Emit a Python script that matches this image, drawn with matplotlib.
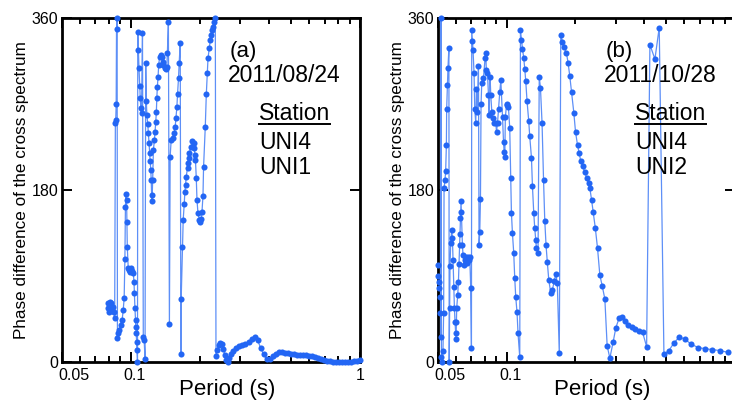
import matplotlib
matplotlib.use("Agg")
import matplotlib.pyplot as plt
from matplotlib.lines import Line2D
from matplotlib.ticker import NullFormatter
from matplotlib.transforms import ScaledTranslation

plt.rcParams['font.family'] = ['Liberation Sans', 'DejaVu Sans']

# ---- panel (a) 2011/08/24, UNI4-UNI1 ----
left_period = [
    0.0793, 0.0797, 0.0803, 0.0809, 0.0815, 0.0822, 0.0828, 0.0834, 0.0840, 0.0849,
    0.0855, 0.0858, 0.0862, 0.0865, 0.0870, 0.0873, 0.0880, 0.0888, 0.0901, 0.0915,
    0.0925, 0.0934, 0.0941, 0.0946, 0.0951, 0.0957, 0.0960, 0.0964, 0.0973, 0.0982,
    0.0992, 0.1002, 0.1013, 0.1024, 0.1031, 0.1035, 0.1041, 0.1047, 0.1051, 0.1055,
    0.1059, 0.1063, 0.1068, 0.1071, 0.1077, 0.1084, 0.1092, 0.1098, 0.1104, 0.1112,
    0.1123, 0.1132, 0.1142, 0.1152, 0.1160, 0.1167, 0.1174, 0.1184, 0.1191, 0.1199,
    0.1207, 0.1213, 0.1221, 0.1226, 0.1231, 0.1236, 0.1244, 0.1253, 0.1266, 0.1274,
    0.1283, 0.1291, 0.1297, 0.1304, 0.1313, 0.1322, 0.1333, 0.1347, 0.1363, 0.1374,
    0.1385, 0.1402, 0.1419, 0.1434, 0.1442, 0.1457, 0.1472, 0.1483, 0.1498, 0.1523,
    0.1544, 0.1560, 0.1571, 0.1587, 0.1597, 0.1613, 0.1624, 0.1641, 0.1652, 0.1657,
    0.1679, 0.1691, 0.1708, 0.1720, 0.1731, 0.1743, 0.1766, 0.1778, 0.1789, 0.1801,
    0.1827, 0.1852, 0.1877, 0.1890, 0.1903, 0.1913, 0.1928, 0.1942, 0.1961, 0.1987,
    0.2008, 0.2028, 0.2042, 0.2063, 0.2075, 0.2111, 0.2133, 0.2154, 0.2170, 0.2199,
    0.2221, 0.2244, 0.2259, 0.2282, 0.2312, 0.2335,
    0.2351, 0.2383, 0.2420, 0.2457, 0.2494, 0.2532, 0.2571, 0.2610, 0.2650, 0.2691, 0.2732,
    0.2802, 0.2887, 0.2977, 0.3068, 0.3162, 0.3260, 0.3360, 0.3463, 0.3569, 0.3680,
    0.3793, 0.3910, 0.4030, 0.4153, 0.4282, 0.4413, 0.4549, 0.4689, 0.4833, 0.4982,
    0.5135, 0.5293, 0.5456, 0.5623, 0.5797, 0.5975, 0.6159, 0.6348, 0.6544, 0.6745,
    0.6952, 0.7167, 0.7386, 0.7614, 0.7848, 0.8090, 0.8340, 0.8596, 0.8861, 0.9131,
    0.9413, 0.9701, 1.0,
]
left_phase = [
    57, 62, 52, 63, 55, 62, 53, 58, 52, 46,
    250, 253, 270, 349, 360, 25, 30, 33, 39, 44,
    54, 67, 108, 162, 176, 170, 146, 120, 98, 96,
    94, 98, 95, 93, 84, 72, 56, 44, 37, 30,
    21, 13, 0, 345, 327, 308, 289, 276, 266, 261,
    344, 26, 23, 3, 313, 273, 258, 249, 240, 229,
    219, 210, 201, 190, 175, 168, 190, 222, 232, 241,
    251, 262, 276, 288, 298, 311, 319, 321, 319, 314,
    311, 308, 307, 309, 323, 356, 40, 215, 232, 234,
    240, 246, 255, 267, 280, 297, 313, 334, 8, 66,
    120, 149, 165, 178, 185, 194, 203, 208, 213, 219,
    225, 231, 229, 224, 217, 211, 193, 170, 156, 149,
    146, 150, 157, 174, 204, 246, 280, 302, 318, 329,
    337, 342, 347, 351, 356, 360,
    6, 13, 18, 20, 19, 14, 7, 2, 0, 4, 8,
    12, 15, 17, 18, 19, 21, 24, 26, 23, 15,
    8, 3, 3, 6, 8, 10, 10, 9, 9, 8,
    8, 7, 7, 7, 7, 6, 6, 5, 4, 3,
    2, 1, 1, 0.5, 0.5, 0.5, 0.5, 0.5, 0.5, 0.5,
    1, 1.5, 2,
]

# ---- panel (b) 2011/10/28, UNI4-UNI2 ----
right_period = [
    0.04981, 0.05007, 0.05032, 0.05052, 0.05083, 0.05114, 0.05135, 0.05155, 0.05176, 0.05218,
    0.05256, 0.05293, 0.05315, 0.05363, 0.05402, 0.05441, 0.05457, 0.05496, 0.05530, 0.05581,
    0.05598, 0.05621, 0.05643, 0.05684, 0.05741, 0.05782, 0.05817, 0.05859, 0.05900, 0.05936,
    0.05978, 0.05997, 0.06021, 0.06039, 0.06100, 0.06144, 0.06181, 0.06225, 0.06244, 0.06269,
    0.06288, 0.06307, 0.06397, 0.06436, 0.06502, 0.06568, 0.06661, 0.06729, 0.06797, 0.06838,
    0.06887, 0.06957, 0.07006, 0.07027, 0.07077, 0.07120, 0.07193, 0.07244, 0.07317, 0.07369,
    0.07444, 0.07519, 0.07565, 0.07619, 0.07673, 0.07719, 0.07774, 0.07909, 0.08040, 0.08097,
    0.08138, 0.08237, 0.08321, 0.08371, 0.08456, 0.08516, 0.08603, 0.08717, 0.08805, 0.08958,
    0.09022, 0.09113, 0.09206, 0.09327, 0.09422, 0.09586, 0.09683, 0.09742, 0.09811, 0.09861,
    0.09981, 0.10071, 0.10173, 0.10308, 0.10412, 0.10486, 0.10593, 0.10733, 0.10842, 0.10952,
    0.11096, 0.11208, 0.11405, 0.11486, 0.11602, 0.11720, 0.11874, 0.11994, 0.12115, 0.12275,
    0.12488, 0.12614, 0.12833, 0.12963, 0.13134, 0.13268, 0.13402, 0.13497, 0.13717, 0.13884,
    0.14053, 0.14282, 0.14500, 0.14678, 0.14871, 0.15053, 0.15283, 0.15595, 0.15833, 0.16156,
    0.16403, 0.16654, 0.16993, 0.17252, 0.17551, 0.17783, 0.18275, 0.18573, 0.18895, 0.19222,
    0.19674, 0.20014, 0.20423, 0.20756, 0.21115, 0.21481, 0.21986, 0.22366, 0.22823, 0.23124,
    0.23525, 0.23908, 0.24445, 0.24994, 0.25581, 0.26182, 0.26906, 0.27538, 0.28299, 0.29259,
    0.30068, 0.31087, 0.32044, 0.32930, 0.34046, 0.35235, 0.36429, 0.38046, 0.39375, 0.41004,
    0.42393, 0.44589, 0.46567, 0.48830, 0.51358, 0.54017, 0.56985, 0.60357, 0.63928, 0.69024,
    0.73858, 0.79068, 0.85930, 0.93453,
]
right_phase = [
    101, 90, 84, 77, 68, 51, 26, 360, 5, 0,
    11, 51, 182, 190, 200, 227, 265, 290, 308, 329,
    0, 56, 100, 125, 138, 130, 107, 78, 57, 42,
    30, 24, 42, 57, 70, 84, 103, 122, 134, 151,
    157, 168, 122, 112, 101, 107, 110, 104, 110, 107,
    110, 77, 15, 347, 336, 326, 302, 265, 250, 286,
    262, 310, 122, 136, 171, 270, 292, 297, 318, 323,
    306, 302, 279, 258, 298, 279, 262, 255, 250, 250,
    241, 250, 265, 283, 295, 256, 230, 220, 215, 256,
    269, 270, 267, 245, 193, 156, 135, 114, 88, 68,
    52, 30, 5, 347, 337, 328, 318, 307, 294, 273,
    252, 236, 214, 184, 156, 140, 128, 119, 114, 298,
    287, 250, 190, 148, 122, 105, 86, 72, 75, 85,
    92, 83, 9, 342, 335, 330, 323, 313, 299, 283,
    261, 241, 227, 219, 210, 205, 199, 193, 187, 182,
    170, 157, 140, 119, 91, 80, 66, 17, 4, 21,
    36, 46, 47, 43, 39, 37, 35, 32, 31, 16,
    332, 317, 350, 8, 12, 20, 26, 24, 19, 15,
    14, 13, 12, 10,
]

x_major = [0.05, 0.1, 1]
x_minor = [0.06, 0.07, 0.08, 0.09, 0.2, 0.3, 0.4, 0.5, 0.6, 0.7, 0.8, 0.9]
y_ticks = [0, 180, 360]

LINE_C = "#5d8ff7"
DOT_C = "#2366f4"
W, H = 732, 403


def px(x, y):
    # pixel position -> figure fraction
    return x / W, 1 - y / H


def draw_panel(fig, ax, period, phase, xlabels, xlab_x):
    ax.plot(period, phase, "-", color=LINE_C, lw=0.9, zorder=2)
    ax.plot(period, phase, "o", color=DOT_C, ms=4.4, mec="none",
            zorder=3, clip_on=False)
    ax.set_xscale("log")
    ax.set_xlim(0.05, 1)
    ax.set_ylim(0, 360)
    ax.set_xticks(x_major)
    ax.set_xticklabels(xlabels)
    ax.set_xticks(x_minor, minor=True)
    ax.xaxis.set_minor_formatter(NullFormatter())
    ax.set_yticks(y_ticks)
    ax.set_yticklabels([str(v) for v in y_ticks])
    ax.tick_params(which="both", direction="in", top=True, right=True,
                   width=1.4, labelsize=11.5)
    ax.tick_params(which="major", length=7)
    ax.tick_params(which="minor", length=4.5)
    ax.tick_params(axis="x", pad=4)
    ax.tick_params(axis="y", pad=2.5)
    # the 0.05 label sits right of its tick, clear of the "0"
    labs = ax.get_xticklabels()
    labs[0].set_ha("left")
    labs[0].set_transform(labs[0].get_transform() +
                          ScaledTranslation(-4 / 100, 0, fig.dpi_scale_trans))
    labs[1].set_transform(labs[1].get_transform() +
                          ScaledTranslation(4 / 100, 0, fig.dpi_scale_trans))
    for s in ax.spines.values():
        s.set_linewidth(2)
    ax.set_xlabel("Period (s)", fontsize=16)
    ax.xaxis.set_label_coords(xlab_x, -0.05)
    ax.set_ylabel("Phase difference of the cross spectrum", fontsize=12.3,
                  labelpad=2)


def annotate(fig, tag, date, st2, xtag, xdate, xst):
    fig.text(*px(xtag, 51), tag, ha="center", va="center", fontsize=16)
    fig.text(*px(xdate, 82), date, ha="center", va="baseline", fontsize=16.5)
    fig.text(*px(xst, 120), "Station", ha="left", va="baseline", fontsize=16.5)
    fig.add_artist(Line2D([xst / W, (xst + 71) / W], [1 - 123.5 / H] * 2,
                          color="black", lw=1.4, transform=fig.transFigure))
    fig.text(*px(xst, 149), "UNI4", ha="left", va="baseline", fontsize=16.5)
    fig.text(*px(xst, 174), st2, ha="left", va="baseline", fontsize=16.5)


fig = plt.figure(figsize=(7.32, 4.03), dpi=100)
ax1 = fig.add_axes([62 / W, 41 / H, 298 / W, 344 / H])
ax2 = fig.add_axes([438 / W, 41 / H, 297 / W, 344 / H])

draw_panel(fig, ax1, left_period, left_phase, ["0.05", "0.1", "1"], 0.554)
draw_panel(fig, ax2, right_period, right_phase, ["0.05", "0.1", ""], 0.552)

annotate(fig, "(a)", "2011/08/24", "UNI1", 243, 284, 259)
annotate(fig, "(b)", "2011/10/28", "UNI2", 619, 660, 635)

fig.savefig("out.png", dpi=100)
